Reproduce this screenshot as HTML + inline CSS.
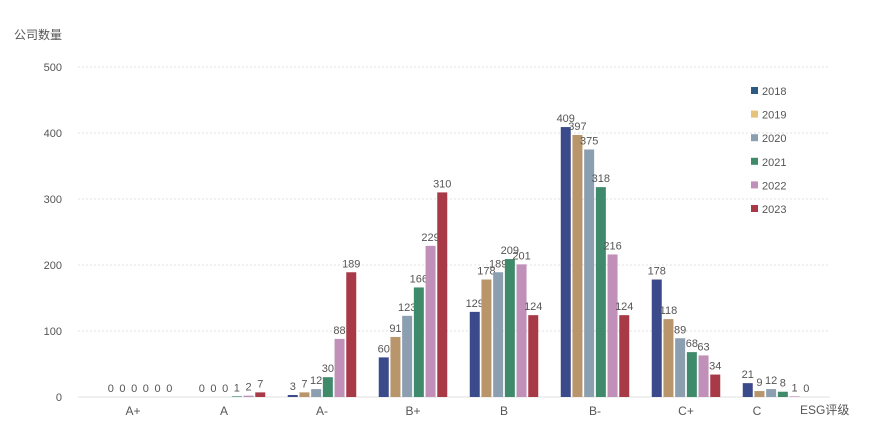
<!DOCTYPE html>
<html><head><meta charset="utf-8"><style>
body{margin:0;background:#fff;}
svg{display:block;font-family:"Liberation Sans","Noto Sans CJK SC",sans-serif;}
</style></head><body>
<svg id="chart" width="886" height="442" viewBox="0 0 886 442"></svg>
<script>
const categories=["A+","A","A-","B+","B","B-","C+","C"];
const years=["2018","2019","2020","2021","2022","2023"];
const s2018=[0,0,3,60,129,409,178,21];
const s2019=[0,0,7,91,178,397,118,9];
const s2020=[0,0,12,123,189,375,89,12];
const s2021=[0,1,30,166,209,318,68,8];
const s2022=[0,2,88,229,201,216,63,1];
const s2023=[0,7,189,310,124,124,34,0];
const yTicks=[0,100,200,300,400,500];
const series=[s2018,s2019,s2020,s2021,s2022,s2023];
const colors=["#3a4a8a","#b8956a","#8c9fb0","#3f8a6a","#c090b8","#a83a48"];
const legendColors=["#2c5a82","#e6c27a","#8c9fb0","#3f8a6a","#c090b8","#a83a48"];
const svg=document.getElementById('chart');
const NS="http://www.w3.org/2000/svg";
function mk(t,a,txt){const e=document.createElementNS(NS,t);for(const k in a)e.setAttribute(k,a[k]);if(txt!==undefined)e.textContent=txt;svg.appendChild(e);return e;}
const y0=397,yTop=67,yMax=500;
function y(v){return y0-(v/yMax)*(y0-yTop);}
const firstCenter=140,step=91,barW=10,barStep=11.7;
function xc(i){return firstCenter+i*step;}
let t=mk('text',{x:14,y:39,'font-size':12,fill:'#555'},'公司数量');


yTicks.forEach(v=>{
 const g=mk('line',{x1:78,x2:830,y1:y(v),y2:y(v),stroke:'#e2e2e2','stroke-dasharray':v===0?'':'2,2'});
 
 
 const l=mk('text',{x:62,y:y(v)+4,'text-anchor':'end','font-size':11,fill:'#555'},String(v));
 
 
});
categories.forEach((c,i)=>{
 const l=mk('text',{x:xc(i)-(i===7?20:(i<2?7:0)),y:415,'text-anchor':'middle','font-size':12,fill:'#555'},c);
 
 
 series.forEach((s,j)=>{
  const v=s[i];const bx=xc(i)-3*barStep+j*barStep+(barStep-barW)/2;
  const r=mk('rect',{x:bx,y:y(v),width:barW,height:y0-y(v),fill:colors[j]});
  
  
  const tl=mk('text',{x:bx+barW/2,y:y(v)-5,'text-anchor':'middle','font-size':11,fill:'#555'},String(v));
  
  
 });
});
t=mk('text',{x:800,y:414,'font-size':12,fill:'#555'},'ESG评级');


years.forEach((yr,j)=>{
 const ly=91+j*23.6;
 const r=mk('rect',{x:751,y:ly-4,width:7,height:7,fill:legendColors[j]});
 
 
 const l=mk('text',{x:762,y:ly+4,'font-size':11,fill:'#555'},yr);
 
 
});
</script>
</body></html>
